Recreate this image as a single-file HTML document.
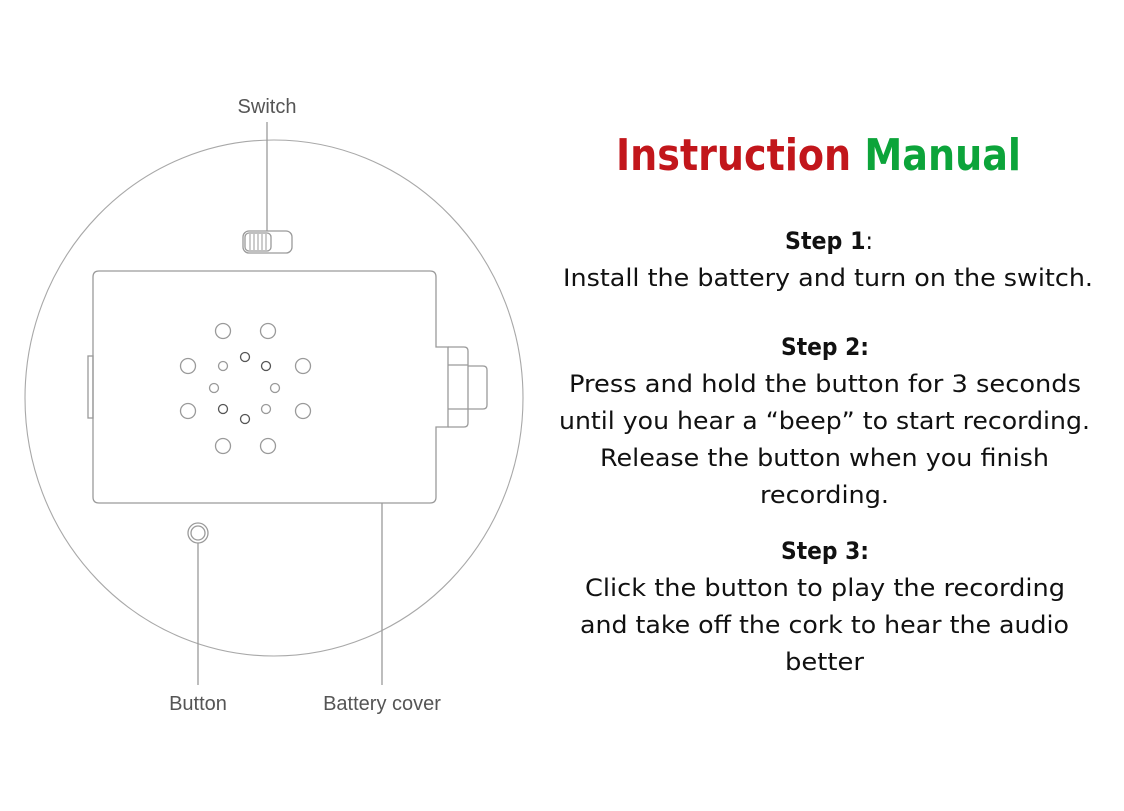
<!DOCTYPE html>
<html><head><meta charset="utf-8"><style>
html,body{margin:0;padding:0;background:#fff;}
svg{display:block;}
.d{fill:none;stroke:#9a9a9a;stroke-width:1.3;}
.l{font-family:"Liberation Sans",sans-serif;font-size:20px;fill:#555;text-anchor:middle;}
.t{font-family:"DejaVu Sans","Liberation Sans",sans-serif;font-size:24px;fill:#111;}
.b{font-weight:bold;}
</style></head><body>
<svg width="1124" height="811" viewBox="0 0 1124 811" xmlns="http://www.w3.org/2000/svg">
<ellipse fill="none" stroke="#a8a8a8" stroke-width="1.1" cx="274" cy="398" rx="249" ry="258"/>
<line class="d" x1="267" y1="122" x2="267" y2="231"/>
<line class="d" x1="198" y1="543" x2="198" y2="685"/>
<line class="d" x1="382" y1="503" x2="382" y2="685"/>
<rect class="d" x="243" y="231" width="49" height="22" rx="6"/>
<rect class="d" x="245" y="233" width="26" height="18" rx="4"/>
<g stroke="#999" stroke-width="1"><line x1="250" y1="234" x2="250" y2="250"/><line x1="254" y1="234" x2="254" y2="250"/><line x1="258" y1="234" x2="258" y2="250"/><line x1="262" y1="234" x2="262" y2="250"/><line x1="266" y1="234" x2="266" y2="250"/></g>
<path class="d" d="M99 271 H430 Q436 271 436 277 V347 H448 V427 H436 V497 Q436 503 430 503 H99 Q93 503 93 497 V277 Q93 271 99 271 Z"/>
<path class="d" d="M448 347 H464 Q468 347 468 351 V423 Q468 427 464 427 H448"/>
<line class="d" x1="448" y1="365" x2="468" y2="365"/>
<line class="d" x1="448" y1="409" x2="468" y2="409"/>
<path class="d" d="M468 366 H483 Q487 366 487 370 V405 Q487 409 483 409 H468"/>
<rect class="d" x="88" y="356" width="5" height="62"/>
<g class="d">
<circle cx="223" cy="331" r="7.5"/><circle cx="268" cy="331" r="7.5"/>
<circle cx="188" cy="366" r="7.5"/><circle cx="303" cy="366" r="7.5"/>
<circle cx="188" cy="411" r="7.5"/><circle cx="303" cy="411" r="7.5"/>
<circle cx="223" cy="446" r="7.5"/><circle cx="268" cy="446" r="7.5"/>
<circle cx="223" cy="366" r="4.5"/><circle cx="214" cy="388" r="4.5"/><circle cx="275" cy="388" r="4.5"/><circle cx="266" cy="409" r="4.5"/>
</g>
<g fill="none" stroke="#555" stroke-width="1.3">
<circle cx="245" cy="357" r="4.5"/><circle cx="266" cy="366" r="4.5"/><circle cx="223" cy="409" r="4.5"/><circle cx="245" cy="419" r="4.5"/>
</g>
<circle class="d" cx="198" cy="533" r="10"/><circle class="d" cx="198" cy="533" r="7"/>
<text class="l" x="267" y="113">Switch</text>
<text class="l" x="198" y="710">Button</text>
<text class="l" x="382" y="710">Battery cover</text>
<text x="616" y="170" textLength="405" lengthAdjust="spacingAndGlyphs" style="font-family:'DejaVu Sans','Liberation Sans',sans-serif;font-weight:bold;font-size:44px"><tspan fill="#c2161b">Instruction </tspan><tspan fill="#0ca43a">Manual</tspan></text>
<g class="t">
<text x="785" y="249" textLength="88" lengthAdjust="spacingAndGlyphs"><tspan class="b">Step 1</tspan>:</text>
<text x="563" y="286" textLength="530" lengthAdjust="spacingAndGlyphs">Install the battery and turn on the switch.</text>
<text class="b" x="781" y="355" textLength="88" lengthAdjust="spacingAndGlyphs">Step 2:</text>
<text x="569" y="392" textLength="512" lengthAdjust="spacingAndGlyphs">Press and hold the button for 3 seconds</text>
<text x="559" y="429" textLength="531" lengthAdjust="spacingAndGlyphs">until you hear a “beep” to start recording.</text>
<text x="600" y="466" textLength="449" lengthAdjust="spacingAndGlyphs">Release the button when you finish</text>
<text x="760" y="503" textLength="129" lengthAdjust="spacingAndGlyphs">recording.</text>
<text class="b" x="781" y="559" textLength="88" lengthAdjust="spacingAndGlyphs">Step 3:</text>
<text x="585" y="596" textLength="480" lengthAdjust="spacingAndGlyphs">Click the button to play the recording</text>
<text x="580" y="633" textLength="489" lengthAdjust="spacingAndGlyphs">and take off the cork to hear the audio</text>
<text x="785" y="670" textLength="79" lengthAdjust="spacingAndGlyphs">better</text>
</g>
</svg>
</body></html>
